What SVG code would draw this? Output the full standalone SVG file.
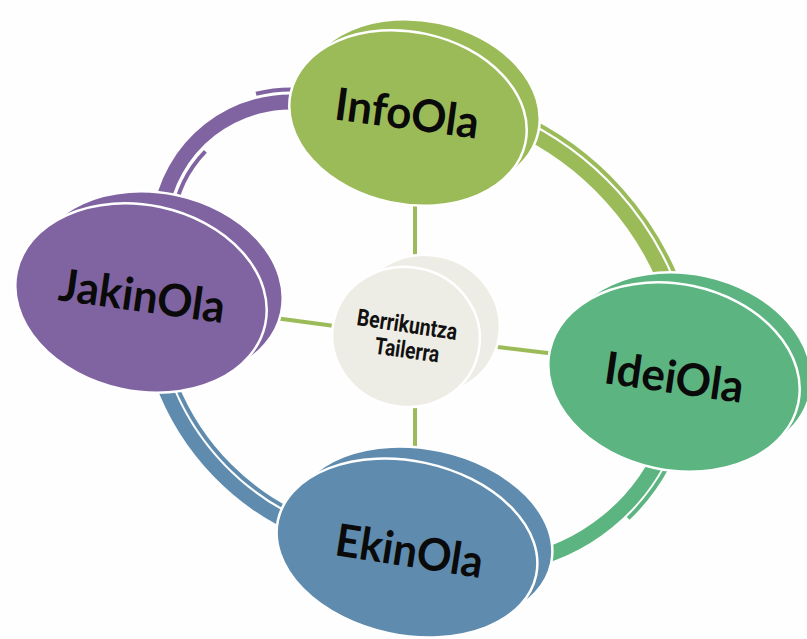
<svg xmlns="http://www.w3.org/2000/svg" width="807" height="639" viewBox="0 0 807 639">
<style>
.bg{fill:#fdfefd}
.disc{stroke:#ffffff;stroke-width:2.5}
.spoke{stroke:#9bbb59;stroke-width:4;fill:none}
.band{fill:none;stroke-width:15}
.thin{fill:none;stroke-width:4}
.lbl{font-family:Lato,"Open Sans","Liberation Sans",sans-serif;font-weight:bold;font-size:45px;fill:#0a0a0a;text-anchor:middle}
.small{font-family:Roboto,"Liberation Sans",sans-serif;font-weight:bold;font-size:23.5px;fill:#111111;text-anchor:middle}
</style>
<rect class="bg" x="0" y="0" width="807" height="639"/>
<g id="connectors">
  <line class="spoke" x1="415" y1="195" x2="415" y2="265"/>
  <line class="spoke" x1="415" y1="400" x2="415" y2="455"/>
  <line class="spoke" x1="275" y1="318" x2="342" y2="327"/>
  <line class="spoke" x1="490" y1="346" x2="556" y2="354"/>
  <path class="band" stroke="#8064a2" d="M160.3 215.6 A132 132 0 0 1 304.8 102.7"/>
  <path class="thin" stroke="#8064a2" d="M173.2 217.4 A119 119 0 0 1 205.4 151.3"/>
  <path class="thin" stroke="#8064a2" d="M256 93.8 A144.5 144.5 0 0 1 306.1 90.3"/>
  <path class="band" stroke="#9bbb59" d="M511 124 A300 300 0 0 1 674.3 305.3"/>
  <path class="thin" stroke="#9bbb59" d="M515.7 113.4 A311.5 311.5 0 0 1 685.3 301.7"/>
  <path class="band" stroke="#5cb580" d="M666.5 441.5 A199 199 0 0 1 516.5 563"/>
  <path class="thin" stroke="#5cb580" d="M667.9 465.8 A210.5 210.5 0 0 1 628.2 518.4"/>
  <path class="band" stroke="#5f8cae" d="M162 380 A257.5 257.5 0 0 0 307.5 530.8"/>
  <path class="thin" stroke="#5f8cae" d="M175.9 384.2 A246 246 0 0 0 311.8 520.1"/>
</g>
<g id="node-infoola">
  <ellipse class="disc" fill="#9bbb59" cx="421" cy="107" rx="120" ry="86" transform="rotate(12 421 107)"/>
  <ellipse class="disc" fill="#9bbb59" cx="408" cy="118" rx="120" ry="86" transform="rotate(12 408 118)"/>
  <text class="lbl" x="405" y="129" textLength="145" lengthAdjust="spacingAndGlyphs" transform="rotate(7.7 405 129)">InfoOla</text>
</g>
<g id="node-jakinola">
  <ellipse class="disc" fill="#8064a2" cx="157" cy="286" rx="127" ry="93" transform="rotate(12 157 286)"/>
  <ellipse class="disc" fill="#8064a2" cx="141" cy="298" rx="127" ry="93" transform="rotate(12 141 298)"/>
  <text class="lbl" x="140" y="311.5" textLength="167" lengthAdjust="spacingAndGlyphs" transform="rotate(8 140 311.5)">JakinOla</text>
</g>
<g id="node-ideiola">
  <ellipse class="disc" fill="#5cb580" cx="686" cy="367" rx="127" ry="93" transform="rotate(12 686 367)"/>
  <ellipse class="disc" fill="#5cb580" cx="674" cy="377" rx="127" ry="93" transform="rotate(12 674 377)"/>
  <text class="lbl" x="672" y="393" textLength="140" lengthAdjust="spacingAndGlyphs" transform="rotate(8.2 672 393)">IdeiOla</text>
</g>
<g id="node-ekinola">
  <ellipse class="disc" fill="#5f8cae" cx="422" cy="536" rx="132" ry="87" transform="rotate(12 422 536)"/>
  <ellipse class="disc" fill="#5f8cae" cx="407" cy="548" rx="132" ry="87" transform="rotate(12 407 548)"/>
  <text class="lbl" x="407" y="566.5" textLength="149" lengthAdjust="spacingAndGlyphs" transform="rotate(8.9 407 566.5)">EkinOla</text>
</g>
<g id="node-center">
  <ellipse class="disc" fill="#eeede5" cx="426" cy="325" rx="74" ry="70" transform="rotate(12 426 325)"/>
  <ellipse class="disc" fill="#eeede5" cx="406" cy="337" rx="74" ry="70" transform="rotate(12 406 337)"/>
  <text class="small" x="406" y="332.5" textLength="101" lengthAdjust="spacingAndGlyphs" transform="rotate(8.5 406 332.5)">Berrikuntza</text>
  <text class="small" x="406" y="358" textLength="65" lengthAdjust="spacingAndGlyphs" transform="rotate(8 406 358)">Tailerra</text>
</g>
</svg>
